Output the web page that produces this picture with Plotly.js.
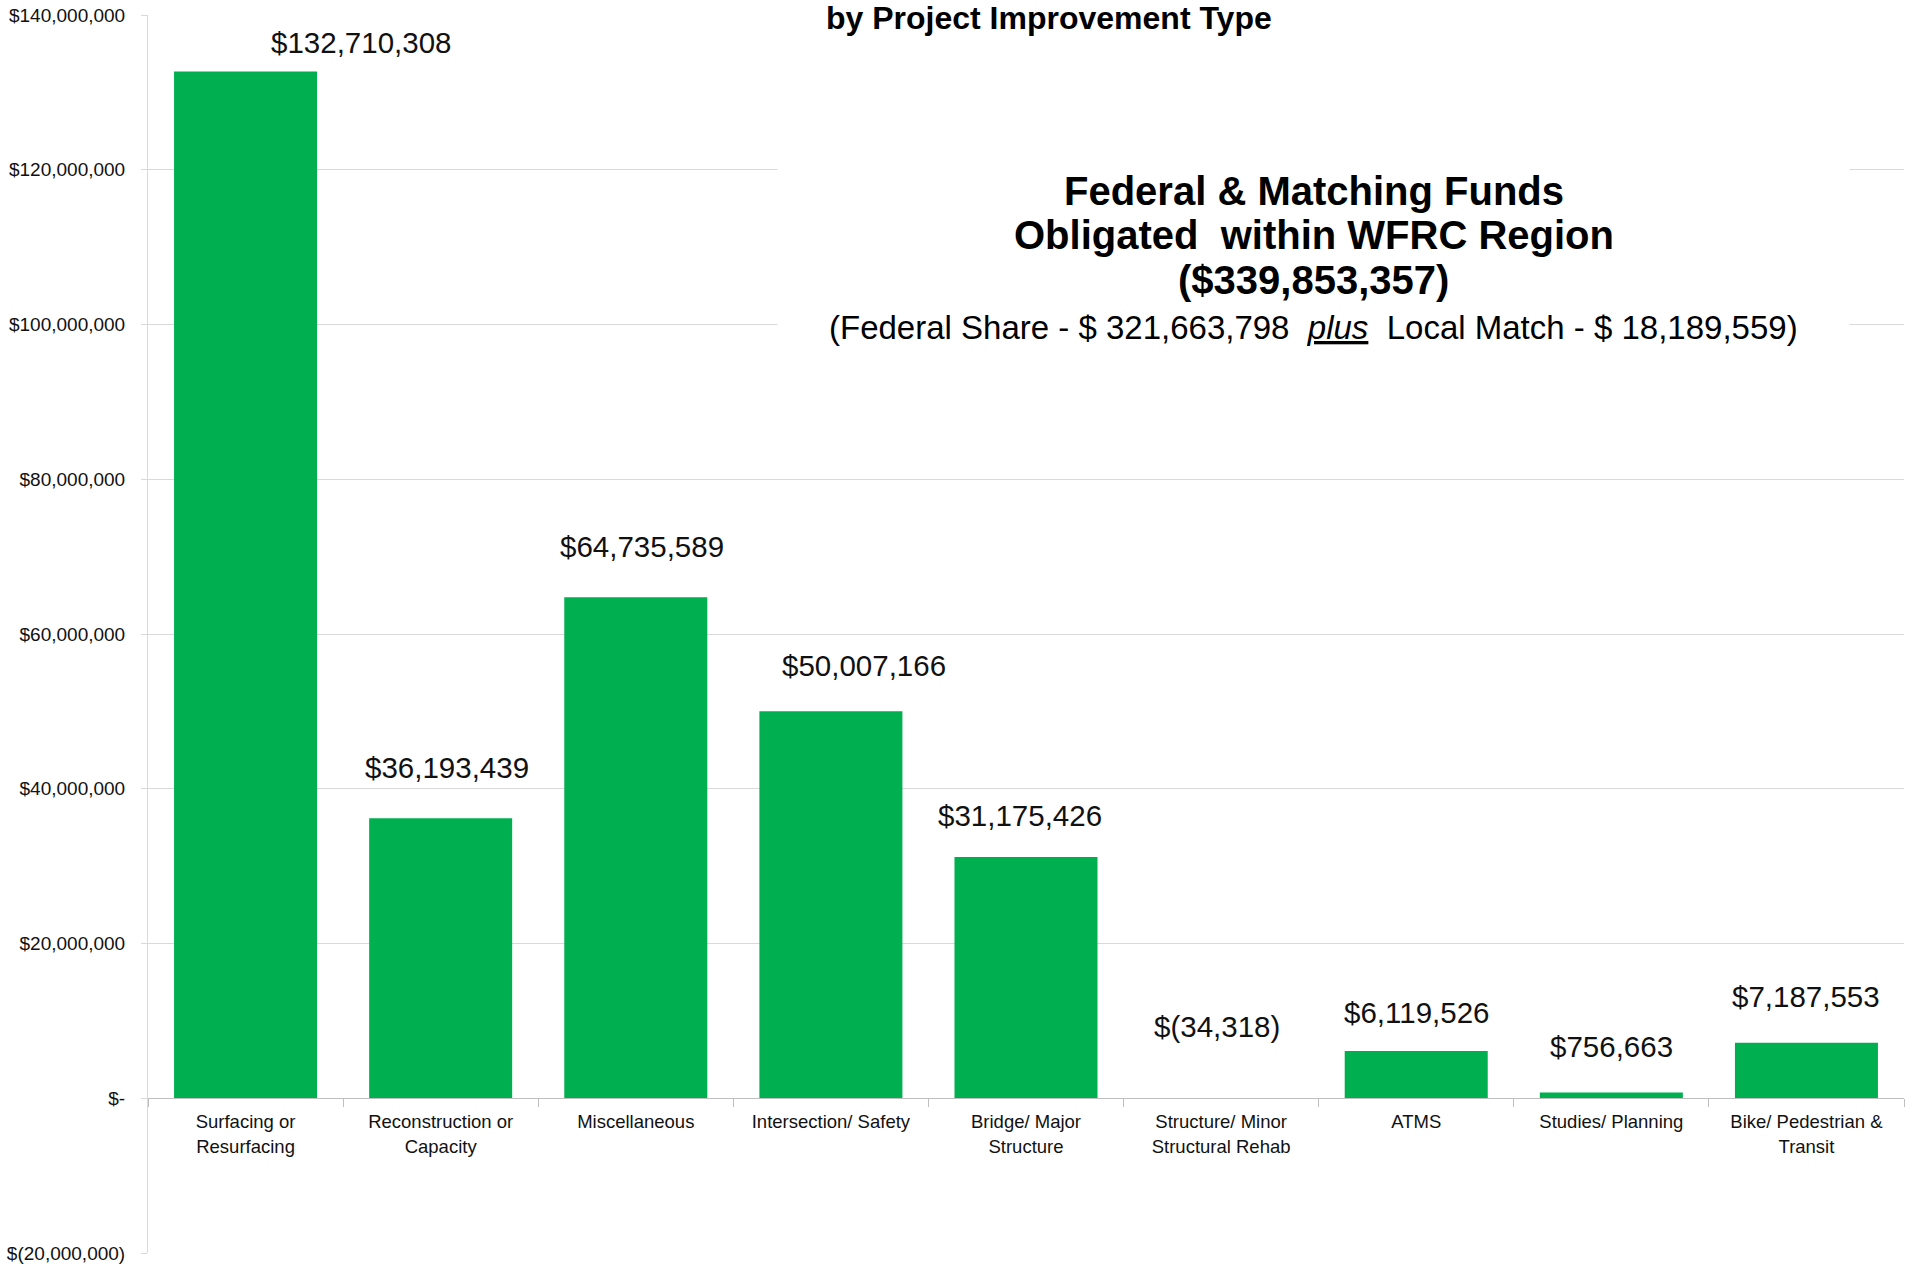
<!DOCTYPE html>
<html>
<head>
<meta charset="utf-8">
<script src="https://cdn.plot.ly/plotly-3.0.1.min.js"></script>
<style>
  html, body { margin: 0; padding: 0; background: #fff; }
  #plot { width: 1917px; height: 1266px; }
</style>
</head>
<body>
<div id="plot"></div>
<script>
// data
var categories = ['Surfacing or Resurfacing', 'Reconstruction or Capacity', 'Miscellaneous',
  'Intersection/ Safety', 'Bridge/ Major Structure', 'Structure/ Minor Structural Rehab',
  'ATMS', 'Studies/ Planning', 'Bike/ Pedestrian & Transit'];
var tickLabels = ['Surfacing or<br>Resurfacing', 'Reconstruction or<br>Capacity', 'Miscellaneous',
  'Intersection/ Safety', 'Bridge/ Major<br>Structure', 'Structure/ Minor<br>Structural Rehab',
  'ATMS', 'Studies/ Planning', 'Bike/ Pedestrian &amp;<br>Transit'];
var funds = [132710308, 36193439, 64735589, 50007166, 31175426, -34318, 6119526, 756663, 7187553];
var yTicks = [-20000000, 0, 20000000, 40000000, 60000000, 80000000, 100000000, 120000000, 140000000];

var FONT = 'Liberation Sans, Arial, sans-serif';
var GREEN = '#00b050';

function money(v) {
  if (v === 0) return '$-';
  var s = Math.abs(v).toLocaleString('en-US');
  return v < 0 ? '$(' + s + ')' : '$' + s;
}

// a few labels sit off-centre in the original
var nudge = {
  0: {dx: 115, dy: 29},
  1: {dx: 6, dy: 51},
  2: {dx: 6, dy: 51},
  3: {dx: 33, dy: 46},
  4: {dx: -6, dy: 42},
  5: {dx: -4, dy: 72},
  6: {dx: 0, dy: 38}
};

var trace = {
  x: categories,
  y: funds,
  type: 'bar',
  marker: {color: GREEN},
  hoverinfo: 'none'
};

var annotations = funds.map(function (v, i) {
  var n = nudge[i] || {dx: 0, dy: 46};
  return {
    x: categories[i], y: Math.max(v, 0), xref: 'x', yref: 'y',
    text: money(v), showarrow: false,
    xanchor: 'center', yanchor: 'middle',
    xshift: n.dx, yshift: n.dy,
    font: {family: FONT, size: 29.5, color: '#111'}
  };
});

// white boxes behind the header and the text block (they hide the gridlines)
annotations.push(
  {xref: 'paper', yref: 'paper', x: 0.5135, y: 0.996, xanchor: 'center', yanchor: 'middle',
   text: ' ', showarrow: false, width: 669, height: 50, bgcolor: '#fff', borderpad: 0},
  {xref: 'paper', yref: 'paper', x: 0.664, y: 0.81, xanchor: 'center', yanchor: 'middle',
   text: ' ', showarrow: false, width: 1071, height: 200, bgcolor: '#fff', borderpad: 0}
);

// header and subtitle block
var cx = 0.6638;
annotations.push(
  {xref: 'paper', yref: 'paper', x: 0.513, y: 1.0, xanchor: 'center', yanchor: 'middle', yshift: -3,
   text: '<b>by Project Improvement Type</b>', showarrow: false,
   font: {family: FONT, size: 32, color: '#000'}},
  {xref: 'paper', yref: 'paper', x: cx, y: 0.8578, xanchor: 'center', yanchor: 'middle',
   text: '<b>Federal &amp; Matching Funds</b>', showarrow: false,
   font: {family: FONT, size: 40, color: '#000'}},
  {xref: 'paper', yref: 'paper', x: cx, y: 0.8223, xanchor: 'center', yanchor: 'middle',
   text: '<b>Obligated&nbsp; within WFRC Region</b>', showarrow: false,
   font: {family: FONT, size: 40, color: '#000'}},
  {xref: 'paper', yref: 'paper', x: cx, y: 0.7859, xanchor: 'center', yanchor: 'middle',
   text: '<b>($339,853,357)</b>', showarrow: false,
   font: {family: FONT, size: 40, color: '#000'}},
  {xref: 'paper', yref: 'paper', x: cx, y: 0.7472, xanchor: 'center', yanchor: 'middle',
   text: '(Federal Share - $ 321,663,798&nbsp; <i><u>plus</u></i>&nbsp; Local Match - $ 18,189,559)',
   showarrow: false,
   font: {family: FONT, size: 33, color: '#000'}}
);

var layout = {
  width: 1917,
  height: 1266,
  margin: {l: 148, r: 13, t: 15, b: 13},
  paper_bgcolor: '#fff',
  plot_bgcolor: '#fff',
  showlegend: false,
  bargap: 0.267,
  hovermode: false,
  xaxis: {
    type: 'category',
    tickvals: categories,
    ticktext: tickLabels,
    anchor: 'free',
    position: 0.125,
    showgrid: false,
    showline: true,
    linecolor: '#bfbfbf',
    linewidth: 1,
    ticks: 'outside',
    tickson: 'boundaries',
    ticklen: 8,
    tickcolor: '#bfbfbf',
    ticklabelstandoff: 7,
    tickfont: {family: FONT, size: 18.5, color: '#111'}
  },
  yaxis: {
    range: [-20000000, 140000000],
    tickvals: yTicks,
    ticktext: yTicks.map(money),
    showgrid: true,
    gridcolor: '#d9d9d9',
    gridwidth: 1,
    zeroline: false,
    showline: true,
    linecolor: '#d9d9d9',
    ticks: 'outside',
    ticklen: 6,
    tickcolor: '#d9d9d9',
    ticklabelstandoff: 12,
    tickfont: {family: FONT, size: 19, color: '#111'}
  },
  annotations: annotations
};

Plotly.newPlot('plot', [trace], layout, {displayModeBar: false, staticPlot: true});
</script>
</body>
</html>
